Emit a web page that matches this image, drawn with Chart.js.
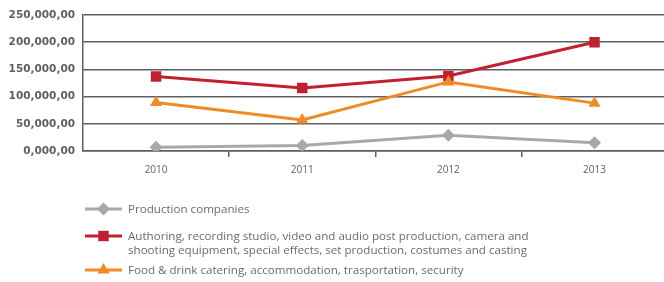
<!DOCTYPE html>
<html>
<head>
<meta charset="utf-8">
<style>
  html, body { margin: 0; padding: 0; background: #ffffff; overflow: hidden; }
  #wrap { width: 664px; height: 282px; position: relative; overflow: hidden; }
</style>
<script src="https://cdn.jsdelivr.net/npm/chart.js@4.4.1/dist/chart.umd.min.js"></script>
</head>
<body>
<div id="wrap"><canvas id="c" width="675" height="282"></canvas></div>
<script>
// ---- data ----
const categories = ['2010', '2011', '2012', '2013'];
const productionCompanies = [7000, 10000, 29000, 15000];
const authoringEquipment = [137000, 116000, 138000, 200000];
const foodCateringSecurity = [89000, 57000, 127000, 88000];
const yTickValues = [0, 50000, 100000, 150000, 200000, 250000];
const yTickLabels = ['0,000,00', '50,000,00', '100,000,00', '150,000,00', '200,000,00', '250,000,00'];
const seriesNames = [
  ['Production companies'],
  ['Authoring, recording studio, video and audio post production, camera and',
   'shooting equipment, special effects, set production, costumes and casting'],
  ['Food & drink catering, accommodation, trasportation, security']
];

// ---- styles ----
const GRAY = '#a7a8aa';
const RED = '#c1202e';
const ORANGE = '#ef8a24';
const AXIS = '#5d5e60';
const TEXT = '#5d5e60';
const LEGEND_TEXT = '#6a6b6e';

function drawMarker(ctx, style, x, y, r, color) {
  ctx.save();
  ctx.fillStyle = color;
  ctx.beginPath();
  if (style === 'rectRot') {
    ctx.moveTo(x, y - r); ctx.lineTo(x + r, y); ctx.lineTo(x, y + r); ctx.lineTo(x - r, y);
  } else if (style === 'rect') {
    const s = r * Math.SQRT1_2;
    ctx.rect(x - s, y - s, 2 * s, 2 * s);
  } else if (style === 'triangle') {
    ctx.moveTo(x, y - r);
    ctx.lineTo(x + r * Math.sin(Math.PI / 3), y + r * 0.5);
    ctx.lineTo(x - r * Math.sin(Math.PI / 3), y + r * 0.5);
  }
  ctx.closePath();
  ctx.fill();
  ctx.restore();
}

const legendPlugin = {
  id: 'customLegend',
  afterDraw(chart) {
    const ctx = chart.ctx;
    const rows = [209, 236, 270];
    const lineH = 14;
    chart.data.datasets.forEach((ds, i) => {
      const y = rows[i];
      ctx.save();
      ctx.strokeStyle = ds.borderColor;
      ctx.lineWidth = 3;
      ctx.beginPath();
      ctx.moveTo(85, y);
      ctx.lineTo(122, y);
      ctx.stroke();
      ctx.restore();
      drawMarker(ctx, ds.pointStyle, 103.5, y, ds.pointRadius, ds.backgroundColor);
      ctx.save();
      ctx.fillStyle = LEGEND_TEXT;
      ctx.font = '11.6px "Open Sans"';
      ctx.textBaseline = 'middle';
      ctx.textAlign = 'left';
      seriesNames[i].forEach((line, k) => {
        ctx.fillText(line, 128, y + 1 + k * lineH);
      });
      ctx.restore();
    });
  }
};

new Chart(document.getElementById('c'), {
  type: 'line',
  data: {
    labels: categories,
    datasets: [
      {
        label: seriesNames[0].join(' '),
        data: productionCompanies,
        borderColor: GRAY,
        backgroundColor: GRAY,
        borderWidth: 3,
        pointStyle: 'rectRot',
        pointRadius: 6.5,
        pointHoverRadius: 6.5,
        pointBorderWidth: 0,
        tension: 0,
        order: 3
      },
      {
        label: seriesNames[1].join(' '),
        data: authoringEquipment,
        borderColor: RED,
        backgroundColor: RED,
        borderWidth: 3,
        pointStyle: 'rect',
        pointRadius: 7.4,
        pointHoverRadius: 7.4,
        pointBorderWidth: 0,
        tension: 0,
        order: 2
      },
      {
        label: seriesNames[2].join(' '),
        data: foodCateringSecurity,
        borderColor: ORANGE,
        backgroundColor: ORANGE,
        borderWidth: 3,
        pointStyle: 'triangle',
        pointRadius: 7,
        pointHoverRadius: 7,
        pointBorderWidth: 0,
        tension: 0,
        order: 1
      }
    ]
  },
  options: {
    responsive: false,
    animation: false,
    events: [],
    layout: { padding: { top: 15, bottom: 101, left: 0, right: 0 } },
    plugins: {
      legend: { display: false },
      tooltip: { enabled: false }
    },
    scales: {
      x: {
        type: 'category',
        offset: true,
        afterFit: (s) => { s.height = 30; },
        grid: {
          offset: true,
          drawOnChartArea: false,
          drawTicks: true,
          tickLength: 6,
          lineWidth: 1.5,
          color: (c) => (c.index === 0 || c.index === categories.length) ? 'rgba(0,0,0,0)' : AXIS
        },
        border: { display: true, color: AXIS, width: 1.5 },
        ticks: {
          color: TEXT,
          font: { family: '"Open Sans"', size: 10 },
          padding: 7,
          maxRotation: 0
        }
      },
      y: {
        min: 0,
        max: 250000,
        afterFit: (s) => { s.width = 83; },
        afterBuildTicks: (s) => { s.ticks = yTickValues.map(v => ({ value: v })); },
        grid: {
          drawTicks: false,
          color: AXIS,
          lineWidth: 1.5
        },
        border: { display: true, color: AXIS, width: 1.5 },
        ticks: {
          color: TEXT,
          padding: 8,
          font: { family: '"DejaVu Sans"', size: 10.5, weight: 'bold' },
          callback: (v) => yTickLabels[yTickValues.indexOf(v)]
        }
      }
    }
  },
  plugins: [legendPlugin]
});
</script>
</body>
</html>
